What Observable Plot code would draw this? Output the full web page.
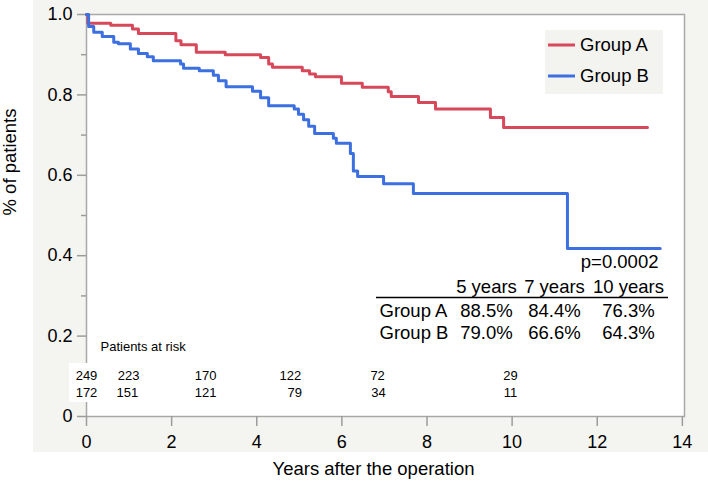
<!DOCTYPE html>
<html><head><meta charset="utf-8">
<script src="https://cdn.jsdelivr.net/npm/d3@7"></script>
<script src="https://cdn.jsdelivr.net/npm/@observablehq/plot@0.6"></script>
<style>body{margin:0;background:#fff;}</style>
</head><body><div id="chart"></div>
<script>
// ---- data ----
const groups = ["Group A", "Group B"];
const groupColors = ["#d6485a", "#3c6fdf"];
const timeA = [0, 0.03, 0.57, 1.08, 1.22, 2.10, 2.22, 2.58, 3.26, 4.09, 4.28, 4.37, 5.07, 5.24, 5.38, 5.99, 6.48, 7.09, 7.16, 7.80, 8.20, 9.49, 9.80, 13.18];
const survA = [1.0, 0.978, 0.973, 0.964, 0.953, 0.935, 0.925, 0.906, 0.900, 0.893, 0.877, 0.869, 0.860, 0.852, 0.845, 0.829, 0.819, 0.808, 0.796, 0.781, 0.765, 0.744, 0.719, 0.719];
const timeB = [0, 0.05, 0.17, 0.37, 0.64, 0.75, 1.03, 1.22, 1.43, 1.57, 2.21, 2.28, 2.65, 2.98, 3.10, 3.28, 3.90, 4.09, 4.28, 4.88, 4.98, 5.10, 5.22, 5.36, 5.80, 5.87, 6.20, 6.27, 6.37, 6.98, 7.68, 11.30, 13.48];
const survB = [1.0, 0.970, 0.956, 0.945, 0.931, 0.927, 0.914, 0.903, 0.895, 0.885, 0.877, 0.866, 0.860, 0.849, 0.835, 0.820, 0.809, 0.793, 0.773, 0.765, 0.752, 0.738, 0.722, 0.704, 0.692, 0.680, 0.654, 0.611, 0.597, 0.579, 0.555, 0.418, 0.418];

const riskYearsA = [0, 0.99, 2.80, 4.79, 6.84, 9.96];
const riskA = [249, 223, 170, 122, 72, 29];
const riskYearsB = [0, 0.96, 2.80, 4.89, 6.86, 9.96];
const riskB = [172, 151, 121, 79, 34, 11];

const landmarks = ["5 years", "7 years", "10 years"];
const rateA = ["88.5%", "84.4%", "76.3%"];
const rateB = ["79.0%", "66.6%", "64.3%"];
const pText = "p=0.0002";

const yTicks = [0, 0.2, 0.4, 0.6, 0.8, 1.0];
const yMinor = [0.1, 0.3, 0.5, 0.7, 0.9];
const xTicks = [0, 2, 4, 6, 8, 10, 12, 14];

// ---- build ----
const seriesA = timeA.map((t, i) => ({t, s: survA[i], g: groups[0]}));
const seriesB = timeB.map((t, i) => ({t, s: survB[i], g: groups[1]}));

const ML = 86, MT = 14, BOTTOM = 416;
const FONT = "'Liberation Sans', Arial, Helvetica, sans-serif";
const axisGray = "#9c9c9c";

function background() {
  const g = d3.create("svg:g");
  g.append("rect").attr("x", 33).attr("y", 0).attr("width", 675).attr("height", 452).attr("fill", "#f4f4f0");
  return g.node();
}
function riskPatch() {
  const g = d3.create("svg:g");
  g.append("rect").attr("x", 69).attr("y", 363).attr("width", 300).attr("height", 39).attr("fill", "white");
  return g.node();
}
function legend() {
  const g = d3.create("svg:g");
  g.append("rect").attr("x", 545).attr("y", 30).attr("width", 118).attr("height", 64).attr("fill", "#f3f3ef");
  groups.forEach((name, i) => {
    const y = 45 + 31 * i;
    g.append("line").attr("x1", 548).attr("x2", 575).attr("y1", y).attr("y2", y)
      .attr("stroke", groupColors[i]).attr("stroke-width", 3);
    g.append("text").attr("x", 580).attr("y", y).attr("dy", "0.35em")
      .attr("text-anchor", "start").attr("font-size", 18.5).attr("fill", "black").text(name);
  });
  return g.node();
}
function tableRule() {
  const g = d3.create("svg:g");
  g.append("line").attr("x1", 376).attr("x2", 668).attr("y1", 297.5).attr("y2", 297.5)
    .attr("stroke", "black").attr("stroke-width", 1.5);
  return g.node();
}

const colX = [486, 554, 628];
const T = (s, x, y, anchor = "middle", size = 18.5) =>
  Plot.text([s], {text: d => d, frameAnchor: "top-left", dx: x - ML, dy: y - MT, textAnchor: anchor, lineAnchor: "middle", fontSize: size});
const tableMarks = [
  T(pText, 658, 262, "end"),
  ...landmarks.map((s, i) => T(s, colX[i], 287)),
  T(groups[0], 379, 311, "start"),
  T(groups[1], 379, 333, "start"),
  ...rateA.map((s, i) => T(s, colX[i], 311)),
  ...rateB.map((s, i) => T(s, colX[i], 333))
];

const chart = Plot.plot({
  width: 708,
  height: 482,
  marginLeft: ML,
  marginRight: 24,
  marginTop: MT,
  marginBottom: 66,
  x: {domain: [0, 14.05]},
  y: {domain: [0, 1]},
  style: {fontFamily: FONT, fontSize: "18px", background: "transparent", overflow: "visible", color: "black"},
  marks: [
    background,
    Plot.frame({fill: "white", stroke: "#a8a8a8", strokeWidth: 1.5}),
    Plot.axisY(yTicks, {tickSize: 9, tickPadding: 5, tickFormat: d => d === 0 ? "0" : d.toFixed(1), stroke: axisGray, strokeWidth: 1.5, fill: "black", fontSize: 18, label: null}),
    Plot.axisY(yMinor, {tickSize: 5, tickFormat: () => "", stroke: axisGray, strokeWidth: 1.5, label: null}),
    Plot.axisX(xTicks, {tickSize: 10, tickPadding: 9, tickFormat: d => String(d), stroke: axisGray, strokeWidth: 1.5, fill: "black", fontSize: 18, label: null}),
    riskPatch,
    Plot.line(seriesA, {x: "t", y: "s", curve: "step-after", stroke: groupColors[0], strokeWidth: 3}),
    Plot.line(seriesB, {x: "t", y: "s", curve: "step-after", stroke: groupColors[1], strokeWidth: 3}),
    legend,
    ...tableMarks,
    tableRule,
    Plot.text(["Patients at risk"], {text: d => d, frameAnchor: "bottom-left", dx: 14, dy: 346 - BOTTOM, textAnchor: "start", lineAnchor: "middle", fontSize: 13}),
    Plot.text(riskA, {x: riskYearsA, text: d => String(d), frameAnchor: "bottom", dy: 375.5 - BOTTOM, lineAnchor: "middle", fontSize: 13}),
    Plot.text(riskB, {x: riskYearsB, text: d => String(d), frameAnchor: "bottom", dy: 392 - BOTTOM, lineAnchor: "middle", fontSize: 13}),
    Plot.text(["% of patients"], {text: d => d, frameAnchor: "left", dx: -76, rotate: -90, lineAnchor: "middle", fontSize: 18.5}),
    Plot.text(["Years after the operation"], {text: d => d, frameAnchor: "bottom", dx: -12, dy: 469 - BOTTOM, lineAnchor: "middle", fontSize: 18.5})
  ]
});
document.getElementById("chart").appendChild(chart);
</script>
</body></html>
